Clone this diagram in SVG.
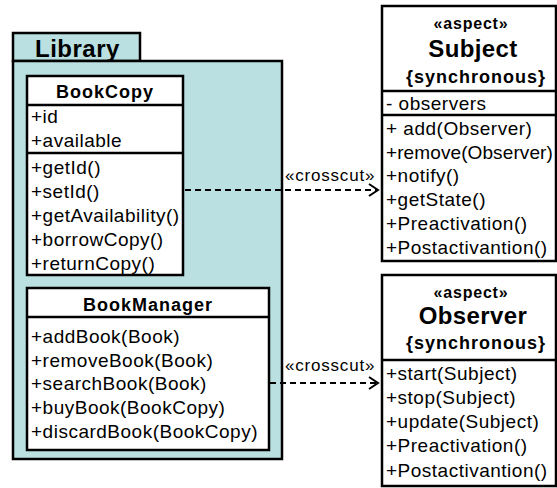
<svg xmlns="http://www.w3.org/2000/svg" width="557" height="488" viewBox="0 0 557 488">
<style>
text{font-family:"Liberation Sans",Arial,sans-serif;fill:#000}
.m{font-size:19px;letter-spacing:0.5px}
.t{font-size:18px;font-weight:bold;letter-spacing:1px;text-anchor:middle}
.big{font-size:24px;font-weight:bold;letter-spacing:0.4px;text-anchor:middle}
.st{font-size:16px;font-weight:bold;letter-spacing:0.8px;text-anchor:middle}
.box{fill:#fff;stroke:#000;stroke-width:2.5}
.pk{fill:#bae0e2;stroke:#000;stroke-width:2.5}
.dv{stroke:#000;stroke-width:2.5}
.lbl{font-size:17px;letter-spacing:0.8px}
.dash{stroke:#000;stroke-width:2;stroke-dasharray:6 4;fill:none}
.head{stroke:#000;stroke-width:2;fill:none}
</style>
<g id="Library">
<rect class="pk" x="13" y="33" width="127" height="28"/>
<rect class="pk" x="13" y="61" width="269" height="398"/>
<text x="35" y="57" style="font-size:24px;font-weight:bold;letter-spacing:0.5px">Library</text>
</g>
<g id="BookCopy">
<rect class="box" x="27" y="76" width="156" height="199"/>
<line class="dv" x1="27" y1="105" x2="183" y2="105"/>
<line class="dv" x1="27" y1="153" x2="183" y2="153"/>
<text class="t" x="105" y="98">BookCopy</text>
<text class="m" x="31" y="123">+id</text>
<text class="m" x="31" y="147">+available</text>
<text class="m" x="31" y="174">+getId()</text>
<text class="m" x="31" y="198">+setId()</text>
<text class="m" x="31" y="222">+getAvailability()</text>
<text class="m" x="31" y="246">+borrowCopy()</text>
<text class="m" x="31" y="270">+returnCopy()</text>
</g>
<g id="BookManager">
<rect class="box" x="27" y="288" width="242" height="162"/>
<line class="dv" x1="27" y1="317" x2="269" y2="317"/>
<text class="t" x="148" y="311">BookManager</text>
<text class="m" x="31" y="343">+addBook(Book)</text>
<text class="m" x="31" y="367">+removeBook(Book)</text>
<text class="m" x="31" y="390">+searchBook(Book)</text>
<text class="m" x="31" y="414">+buyBook(BookCopy)</text>
<text class="m" x="31" y="438">+discardBook(BookCopy)</text>
</g>
<g id="Subject">
<rect class="box" x="382" y="6" width="174" height="255"/>
<line class="dv" x1="382" y1="91" x2="556" y2="91"/>
<line class="dv" x1="382" y1="115" x2="556" y2="115"/>
<text class="st" x="471" y="29">«aspect»</text>
<text class="big" x="473" y="57">Subject</text>
<text class="t" x="476" y="83">{synchronous}</text>
<text class="m" x="386" y="110">- observers</text>
<text class="m" x="386" y="135">+ add(Observer)</text>
<text class="m" x="386" y="159" style="letter-spacing:0.1px">+remove(Observer)</text>
<text class="m" x="386" y="182">+notify()</text>
<text class="m" x="386" y="206">+getState()</text>
<text class="m" x="386" y="230">+Preactivation()</text>
<text class="m" x="386" y="254">+Postactivantion()</text>
</g>
<g id="Observer">
<rect class="box" x="382" y="275" width="174" height="211"/>
<line class="dv" x1="382" y1="360" x2="556" y2="360"/>
<text class="st" x="471" y="298">«aspect»</text>
<text class="big" x="473" y="324">Observer</text>
<text class="t" x="476" y="349">{synchronous}</text>
<text class="m" x="386" y="380">+start(Subject)</text>
<text class="m" x="386" y="404">+stop(Subject)</text>
<text class="m" x="386" y="428">+update(Subject)</text>
<text class="m" x="386" y="452">+Preactivation()</text>
<text class="m" x="386" y="477">+Postactivantion()</text>
</g>
<g id="connectors">
<line class="dash" x1="185" y1="190" x2="377" y2="190"/>
<polyline class="head" points="369,184 378,190 369,196"/>
<text class="lbl" x="285" y="181">«crosscut»</text>
<line class="dash" x1="270" y1="383" x2="377" y2="383"/>
<polyline class="head" points="369,377 378,383 369,389"/>
<text class="lbl" x="285" y="371">«crosscut»</text>
</g>
</svg>
